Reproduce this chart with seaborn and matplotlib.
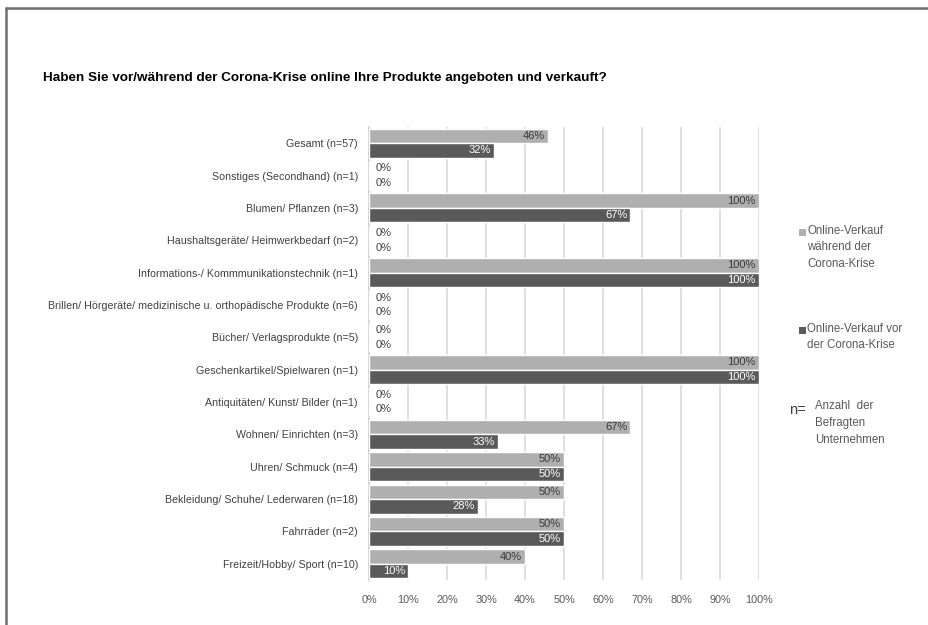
import matplotlib
matplotlib.use("Agg")
import matplotlib.pyplot as plt
from matplotlib.lines import Line2D
from matplotlib.patches import Rectangle
import seaborn as sns
import pandas as pd

categories = [
    "Gesamt (n=57)",
    "Sonstiges (Secondhand) (n=1)",
    "Blumen/ Pflanzen (n=3)",
    "Haushaltsgeräte/ Heimwerkbedarf (n=2)",
    "Informations-/ Kommmunikationstechnik (n=1)",
    "Brillen/ Hörgeräte/ medizinische u. orthopädische Produkte (n=6)",
    "Bücher/ Verlagsprodukte (n=5)",
    "Geschenkartikel/Spielwaren (n=1)",
    "Antiquitäten/ Kunst/ Bilder (n=1)",
    "Wohnen/ Einrichten (n=3)",
    "Uhren/ Schmuck (n=4)",
    "Bekleidung/ Schuhe/ Lederwaren (n=18)",
    "Fahrräder (n=2)",
    "Freizeit/Hobby/ Sport (n=10)",
]
during_crisis = [46, 0, 100, 0, 100, 0, 0, 100, 0, 67, 50, 50, 50, 40]
before_crisis = [32, 0, 67, 0, 100, 0, 0, 100, 0, 33, 50, 28, 50, 10]
series_names = ["Online-Verkauf während der Corona-Krise", "Online-Verkauf vor der Corona-Krise"]
x_ticks = [0, 10, 20, 30, 40, 50, 60, 70, 80, 90, 100]

LIGHT = "#afafaf"
DARK = "#5a5a5a"
TEXT = "#595959"

sns.set_theme(style="white")
plt.rcParams["font.family"] = ["Liberation Sans", "DejaVu Sans"]

df = pd.DataFrame({
    "Kategorie": categories * 2,
    "Anteil": [v / 100 for v in during_crisis] + [v / 100 for v in before_crisis],
    "Serie": [series_names[0]] * len(categories) + [series_names[1]] * len(categories),
})

fig = plt.figure(figsize=(9.29, 6.25), dpi=100)
ax = fig.add_axes([369 / 929, 1 - 580 / 625, 390 / 929, 453 / 625])

sns.barplot(data=df, x="Anteil", y="Kategorie", hue="Serie", orient="h",
            palette=[LIGHT, DARK], width=0.9, ax=ax, saturation=1,
            legend=False, zorder=3)

ax.set_xlim(0, 1)
ax.set_ylim(len(categories) - 0.5, -0.5)
ax.set_xticks([t / 100 for t in x_ticks])
ax.set_xticklabels([f"{t}%" for t in x_ticks], fontsize=7.8, color=TEXT)
ax.tick_params(axis="x", length=0, pad=11)
ax.tick_params(axis="y", length=0, pad=8, labelsize=7.7, labelcolor="#404040")
ax.set_xlabel("")
ax.set_ylabel("")
ax.grid(axis="x", color="#d9d9d9", linewidth=1.2, zorder=0)
ax.grid(axis="y", visible=False)
for side in ["top", "right", "bottom"]:
    ax.spines[side].set_visible(False)
ax.spines["left"].set_color("#d0d0d0")
ax.spines["left"].set_linewidth(1.2)

# value labels
for container, values, color in zip(ax.containers, [during_crisis, before_crisis], ["#3a3a3a", "white"]):
    for bar, v in zip(container.patches, values):
        yc = bar.get_y() + bar.get_height() / 2
        if v == 0:
            ax.text(0.016, yc, "0%", ha="left", va="center", fontsize=8, color="#404040")
        else:
            ax.text(v / 100 - 0.008, yc, f"{v}%", ha="right", va="center", fontsize=8, color=color)

# title
fig.text(43 / 929, 1 - 78 / 625, "Haben Sie vor/während der Corona-Krise online Ihre Produkte angeboten und verkauft?",
         fontsize=9.7, fontweight="bold", color="black", ha="left", va="center")

# legend
def legend_entry(y_px, color, lines):
    fig.patches.append(Rectangle((799 / 929, 1 - (y_px + 4) / 625), 7 / 929, 7 / 625,
                                 transform=fig.transFigure, facecolor=color, edgecolor="none"))
    fig.text(807 / 929, 1 - (y_px - 7) / 625, lines, fontsize=8.3, color=TEXT,
             ha="left", va="top", linespacing=1.5)

legend_entry(232, LIGHT, "Online-Verkauf\nwährend der\nCorona-Krise")
legend_entry(330, DARK, "Online-Verkauf vor\nder Corona-Krise")
fig.text(789 / 929, 1 - 410 / 625, "n=", fontsize=10.5, color="#404040", ha="left", va="center")
fig.text(815 / 929, 1 - 400 / 625, "Anzahl  der\nBefragten\nUnternehmen", fontsize=8.3, color=TEXT,
         ha="left", va="top", linespacing=1.55)

# frame
fig.add_artist(Line2D([6 / 929, 1], [1 - 8 / 625, 1 - 8 / 625], transform=fig.transFigure,
                      color="#6e6e6e", linewidth=1.8))
fig.add_artist(Line2D([6 / 929, 6 / 929], [0, 1 - 8 / 625], transform=fig.transFigure,
                      color="#6e6e6e", linewidth=1.8))

fig.savefig("out.png", dpi=100, facecolor="white")
